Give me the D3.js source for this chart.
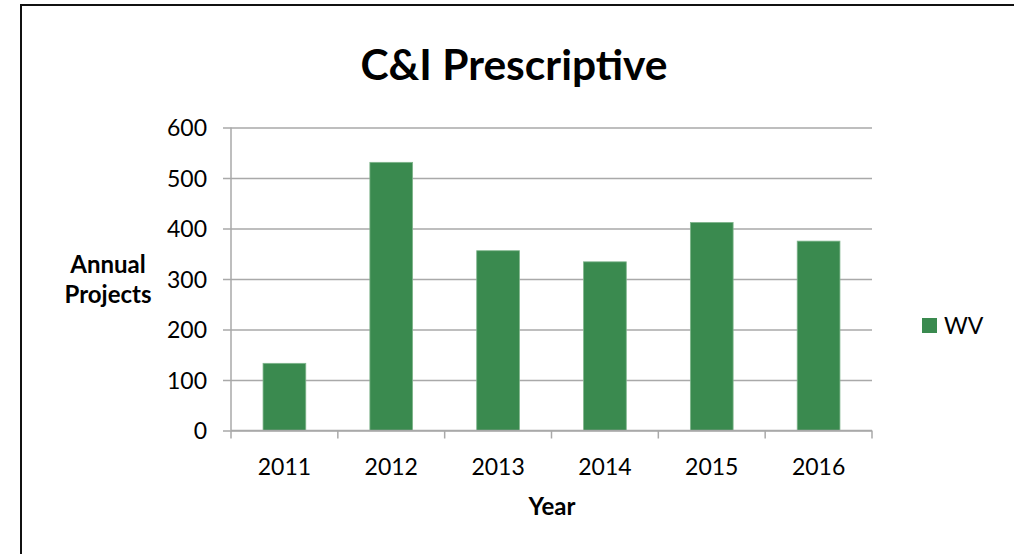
<!DOCTYPE html>
<html>
<head>
<meta charset="utf-8">
<script src="https://cdn.jsdelivr.net/npm/d3@7"></script>
<style>
  body { margin: 0; background: #fff; }
  text { font-family: Lato, "Open Sans", sans-serif; fill: #000; }
</style>
</head>
<body>
<svg id="chart" width="1014" height="554"></svg>
<script>
// data
var years = ["2011", "2012", "2013", "2014", "2015", "2016"];
var wvProjects = [133, 531, 356, 334, 412, 375];
var yTicks = [0, 100, 200, 300, 400, 500, 600];
var seriesName = "WV";

var barColor = "#3a8a4f";
var gridColor = "#a9a9a9";

var svg = d3.select("#chart");

// outer frame (only top and left edges show in the crop)
svg.append("rect")
    .attr("x", 21)
    .attr("y", 5)
    .attr("width", 1100)
    .attr("height", 700)
    .attr("fill", "none")
    .attr("stroke", "#111")
    .attr("stroke-width", 2);

var plotLeft = 231, plotRight = 872, plotTop = 127.5, plotBottom = 430.5;

var x = d3.scaleBand()
    .domain(years)
    .range([plotLeft, plotRight])
    .paddingInner(0.6)
    .paddingOuter(0.3);

var xBand = d3.scaleBand().domain(years).range([plotLeft, plotRight]);

var y = d3.scaleLinear()
    .domain([0, 600])
    .range([plotBottom, plotTop]);

// gridlines + y axis
var yAxis = d3.axisLeft(y)
    .tickValues(yTicks)
    .tickSize(-(plotRight - plotLeft))
    .tickFormat(d3.format("d"));

var gy = svg.append("g")
    .attr("transform", "translate(" + plotLeft + ",0)")
    .call(yAxis);
gy.select(".domain").remove();
gy.selectAll(".tick line")
    .attr("x1", -8)
    .attr("stroke", gridColor)
    .attr("stroke-width", 1.5);
gy.selectAll(".tick text")
    .attr("x", -24)
    .style("font-size", "23px")
    .attr("dy", "0.36em");

// y axis line
svg.append("line")
    .attr("x1", plotLeft).attr("x2", plotLeft)
    .attr("y1", plotTop).attr("y2", plotBottom)
    .attr("stroke", gridColor)
    .attr("stroke-width", 1.5);

// bars
svg.selectAll("rect.bar")
    .data(wvProjects)
    .enter()
    .append("rect")
    .attr("class", "bar")
    .attr("x", function (d, i) { return x(years[i]); })
    .attr("y", function (d) { return y(d); })
    .attr("width", x.bandwidth())
    .attr("height", function (d) { return plotBottom - y(d); })
    .attr("fill", barColor)
    .attr("stroke", "#7fb58c")
    .attr("stroke-width", 0.8);

// x axis
var xAxis = d3.axisBottom(xBand).tickSize(0).tickPadding(28);
var gx = svg.append("g")
    .attr("transform", "translate(0," + plotBottom + ")")
    .call(xAxis);
gx.select(".domain")
    .attr("stroke", gridColor)
    .attr("stroke-width", 1.5)
    .attr("d", "M" + plotLeft + ",0H" + plotRight);
gx.selectAll(".tick text").style("font-size", "23px");

// x ticks sit between categories
var bounds = years.map(function (d) { return xBand(d); }).concat([plotRight]);
svg.selectAll("line.xtick")
    .data(bounds)
    .enter()
    .append("line")
    .attr("class", "xtick")
    .attr("x1", function (d) { return d; })
    .attr("x2", function (d) { return d; })
    .attr("y1", plotBottom)
    .attr("y2", plotBottom + 8)
    .attr("stroke", gridColor)
    .attr("stroke-width", 1.5);

// title
svg.append("text")
    .attr("x", 514)
    .attr("y", 80)
    .attr("text-anchor", "middle")
    .style("font-size", "42.5px")
    .style("font-weight", "bold")
    .text("C&I Prescriptive");

// axis titles
var yTitle = svg.append("text")
    .attr("text-anchor", "middle")
    .style("font-size", "24px")
    .style("font-weight", "bold");
yTitle.append("tspan").attr("x", 108).attr("y", 273).text("Annual");
yTitle.append("tspan").attr("x", 108).attr("y", 303).text("Projects");

svg.append("text")
    .attr("x", 552)
    .attr("y", 515)
    .attr("text-anchor", "middle")
    .style("font-size", "24px")
    .style("font-weight", "bold")
    .text("Year");

// legend
var legend = svg.append("g").attr("transform", "translate(922,318)");
legend.append("rect")
    .attr("width", 15)
    .attr("height", 15)
    .attr("fill", barColor);
legend.append("text")
    .attr("x", 22)
    .attr("y", 16)
    .style("font-size", "23px")
    .text(seriesName);
</script>
</body>
</html>
